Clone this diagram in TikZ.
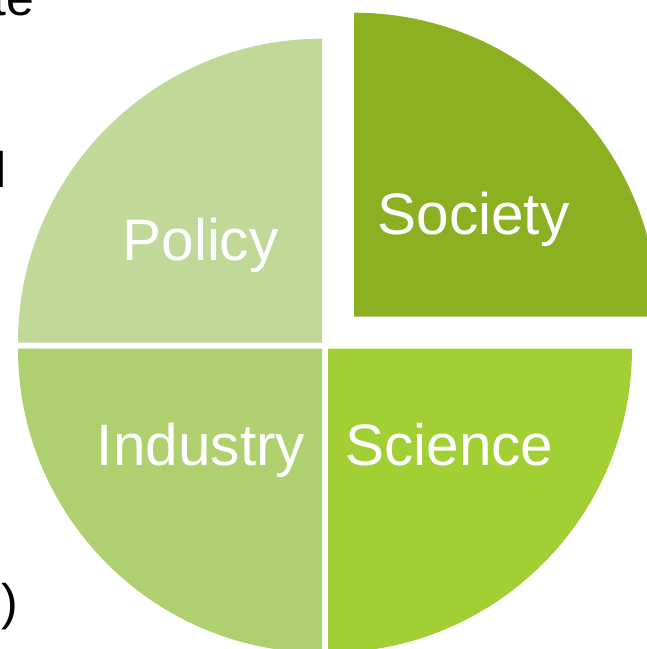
\documentclass[tikz,border=0pt]{standalone}
\usepackage{fontspec}
\setmainfont{Liberation Sans}
\definecolor{policyc}{RGB}{192,216,152}
\definecolor{industryc}{RGB}{175,208,110}
\definecolor{sciencec}{RGB}{162,207,52}
\definecolor{societyc}{RGB}{139,177,34}
\tikzset{
  wedge/.style={draw=none},
  lbl/.style={text=white, inner sep=0pt, anchor=base, font=\fontsize{58.5}{62}\selectfont},
  frag/.style={text=black, inner sep=0pt, anchor=base east, font=\fontsize{50}{54}\selectfont}
}
\begin{document}
\begin{tikzpicture}[x=1pt,y=1pt]
\useasboundingbox (0,0) rectangle (647,649);
% quadrants
\fill[wedge, policyc] (322,306.3) -- (18,306.3) arc[start angle=180, end angle=90, radius=304pt] -- cycle;
\fill[wedge, industryc] (322,300.3) -- (322,-3.7) arc[start angle=270, end angle=180, radius=304pt] -- cycle;
\fill[wedge, sciencec] (328,300.3) -- (632,300.3) arc[start angle=0, end angle=-90, radius=304pt] -- cycle;
\fill[wedge, societyc] (354,332.3) -- (354,636.3) arc[start angle=90, end angle=0, radius=304pt] -- cycle;
% labels
\node[lbl] (policy) at (200.5,388) {Policy};
\node[lbl] (industry) at (201,183) {Industry};
\node[lbl] (science) at (449.5,183) {Science};
\node[lbl] (society) at (473.5,414) {Society};
% cropped text fragments at the left edge
\node[frag] (fragte) at (34,633) {te};
\node[frag] (fragl) at (6.8,461) {l};
\node[frag] (fragpar) at (18,29.5) {c)};
\end{tikzpicture}
\end{document}
